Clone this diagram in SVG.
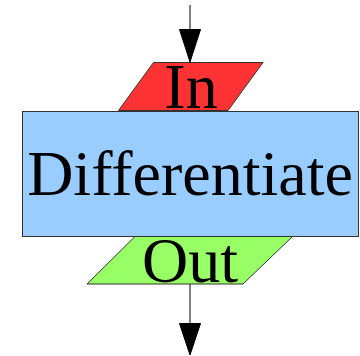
<svg xmlns="http://www.w3.org/2000/svg" width="360" height="356" viewBox="0 0 360 356">
<defs>
<style>
.shape{stroke:#333;stroke-width:1}
.lbl{font-family:"Liberation Serif","Times New Roman",serif;font-size:64px;fill:#000;text-anchor:middle}
.conn{stroke:#000;stroke-width:1;fill:none}
.head{fill:#000;stroke:#000;stroke-width:1}
</style>
</defs>
<g id="connectors">
<line class="conn" x1="190" y1="5" x2="190" y2="30"/>
<polygon class="head" points="179.5,29.5 200.5,29.5 190,62"/>
<line class="conn" x1="190" y1="284" x2="190" y2="324"/>
<polygon class="head" points="179.5,323.5 200.5,323.5 190,355"/>
</g>
<g id="in">
<polygon class="shape" fill="#ff3333" points="153.5,62.5 263,62.5 228,110.5 118.5,110.5"/>
<text class="lbl" x="191" y="108">In</text>
</g>
<g id="differentiate">
<rect class="shape" fill="#99ccff" x="22.5" y="111.5" width="336" height="125"/>
<text class="lbl" x="190" y="195">Differentiate</text>
</g>
<g id="out">
<polygon class="shape" fill="#99ff66" points="135,236.5 292.5,236.5 243,284 87,284"/>
<text class="lbl" x="190" y="281.5">Out</text>
</g>
</svg>
